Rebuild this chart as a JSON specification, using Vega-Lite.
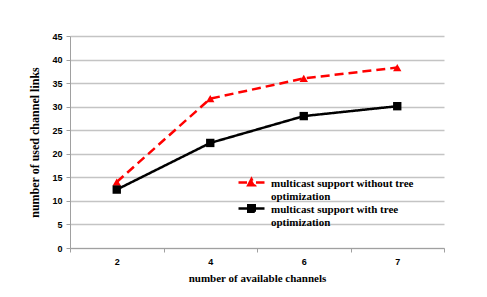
{
  "$schema": "https://vega.github.io/schema/vega-lite/v6.json",
  "width": 374,
  "height": 212,
  "autosize": "none",
  "padding": {"left": 70, "top": 36, "right": 43, "bottom": 49},
  "background": "white",
  "config": {
    "view": {"stroke": null},
    "axis": {"labelFont": "Liberation Sans", "labelFontWeight": "bold", "labelFontSize": 9, "labelColor": "#000000", "titleFont": "Liberation Serif", "titleFontWeight": "bold", "titleFontSize": 11, "titleColor": "#000000", "domainColor": "#a0a0a0", "tickColor": "#a0a0a0", "tickSize": 4}
  },
  "data": {
    "values": [
      {"ch": "2", "v": 14.0, "s": "multicast support without tree optimization"},
      {"ch": "4", "v": 31.7, "s": "multicast support without tree optimization"},
      {"ch": "6", "v": 36.0, "s": "multicast support without tree optimization"},
      {"ch": "7", "v": 38.3, "s": "multicast support without tree optimization"},
      {"ch": "2", "v": 12.4, "s": "multicast support with tree optimization"},
      {"ch": "4", "v": 22.3, "s": "multicast support with tree optimization"},
      {"ch": "6", "v": 28.0, "s": "multicast support with tree optimization"},
      {"ch": "7", "v": 30.1, "s": "multicast support with tree optimization"}
    ]
  },
  "encoding": {
    "x": {"field": "ch", "type": "ordinal", "sort": ["2", "4", "6", "7"], "scale": {"type": "band", "paddingInner": 0, "paddingOuter": 0},
      "axis": {"title": "number of available channels", "labelAngle": 0, "tickBand": "extent", "labelPadding": 5, "titlePadding": 6, "grid": false}},
    "y": {"field": "v", "type": "quantitative", "scale": {"domain": [0, 45], "nice": false},
      "axis": {"title": "number of used channel links", "values": [0,5,10,15,20,25,30,35,40,45], "grid": true, "gridColor": "#c4c4c4", "gridWidth": 1.5, "labelPadding": 4, "titlePadding": 10, "titleFontSize": 12}},
    "color": {"field": "s", "type": "nominal",
      "scale": {"domain": ["multicast support without tree optimization", "multicast support with tree optimization"], "range": ["#ff0000", "#000000"]},
      "legend": {
        "title": null, "orient": "none", "legendX": 175, "legendY": 140,
        "symbolSize": 100, "symbolStrokeWidth": 2.5,
        "labelFont": "Liberation Serif", "labelFontWeight": "bold", "labelFontSize": 11, "labelColor": "#000000", "labelLimit": 400, "labelOffset": 13,
        "labelBaseline": "alphabetic", "rowPadding": -3,
        "labelExpr": "datum.label === 'multicast support without tree optimization' ? ['multicast support without tree', 'optimization'] : ['multicast support with tree', 'optimization']",
        "encode": {
          "symbols": {"update": {
            "shape": {"signal": "datum.value === 'multicast support without tree optimization' ? 'M-2.6,0H-0.9M0.9,0H2.6M-0.65,0.55L0,-0.7L0.65,0.55Z' : 'M-2.6,0H2.6M-0.65,-0.65H0.65V0.65H-0.65Z'"},
            "fill": {"signal": "datum.value === 'multicast support without tree optimization' ? '#ff0000' : '#000000'"},
            "strokeDash": {"value": [1, 0]}
          }},
          "labels": {"update": {"dy": {"value": 4}}}
        }
      }}
  },
  "layer": [
    {
      "mark": {"type": "line", "strokeWidth": 2.5},
      "encoding": {
        "strokeDash": {"field": "s", "type": "nominal", "scale": {"domain": ["multicast support without tree optimization", "multicast support with tree optimization"], "range": [[9, 5], [1, 0]]}, "legend": null}
      }
    },
    {
      "transform": [{"filter": "datum.s === 'multicast support without tree optimization'"}],
      "mark": {"type": "point", "filled": true, "opacity": 1, "size": 70, "shape": "triangle-up"}
    },
    {
      "transform": [{"filter": "datum.s === 'multicast support with tree optimization'"}],
      "mark": {"type": "point", "filled": true, "opacity": 1, "size": 70, "shape": "square"}
    }
  ]
}
